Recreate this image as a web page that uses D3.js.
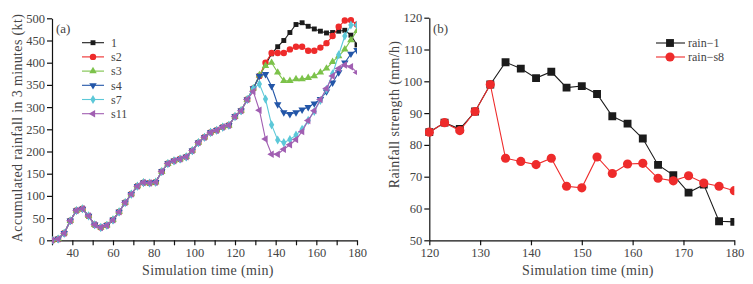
<!DOCTYPE html>
<meta charset="utf-8">
<script src="https://cdn.jsdelivr.net/npm/d3@7"></script>
<style type="text/css">
  body { margin: 0; background: #fff; }
  svg { display: block; }
  .axis text {
    font-family: "Liberation Serif", serif;
    font-size: 12.5px;
    fill: #444;
  }
  .axis path, .axis line {
    stroke: #111;
    stroke-width: 1.2;
  }
  .title {
    font-family: "Liberation Serif", serif;
    font-size: 14px;
    letter-spacing: 0.35px;
    fill: #444;
    text-anchor: middle;
  }
  .tag {
    font-family: "Liberation Serif", serif;
    font-size: 13px;
    fill: #444;
  }
  .legendText {
    font-family: "Liberation Serif", serif;
    font-size: 12px;
    fill: #444;
  }
</style>
<svg width="753" height="284"></svg>
<script>

////////////////////
// DATA

// panel (a): time every 3 min
const timeA = [30,33,36,39,42,45,48,51,54,57,60,63,66,69,72,75,78,81,84,87,90,93,96,99,
  102,105,108,111,114,117,120,123,126,129,132,135,138,141,144,147,150,153,156,159,162,
  165,168,171,174,177,180]

// all runs share the same values up to 126 min
const baseA = [0,3,16,44,67,71,55,35,29,34,46,64,85,104,122,130,129,131,155,173,179,183,
  188,202,220,232,243,248,255,259,279,292,317]

// 129 .. 180 min
const tail1   = [342,370,395,420,436,450,468,486,490,482,476,471,467,468,471,473,462,440]
const tailS2  = [342,370,400,422,422,422,430,436,436,427,427,434,444,460,481,495,496,486]
const tailS3  = [342,372,393,400,378,359,359,363,363,366,370,378,387,402,415,430,451,472]
const tailS4  = [342,370,374,347,306,288,284,288,294,300,308,318,335,355,378,400,420,428]
const tailS7  = [342,352,318,260,226,220,227,237,250,270,290,315,340,375,418,460,485,485]
const tailS11 = [335,293,228,194,194,205,215,227,245,270,292,317,342,370,387,395,391,378]

const namesA = ["1", "s2", "s3", "s4", "s7", "s11"]
const tailsA = [tail1, tailS2, tailS3, tailS4, tailS7, tailS11]

const ticksAx = [40, 60, 80, 100, 120, 140, 160, 180]
const ticksAy = [0, 50, 100, 150, 200, 250, 300, 350, 400, 450, 500]

// panel (b)
const timeB = [120,123,126,129,132,135,138,141,144,147,150,153,156,159,162,165,168,171,174,177,180]
const rain1  = [84,87,85,90.5,99,106,104,101,103,98,98.5,96,89,86.7,82,73.7,70.5,65,67.5,56,55.8]
const rainS8 = [84,87,84.5,90.5,99,75.8,74.8,73.8,75.8,67,66.5,76.2,71,74,74.2,69.5,68.7,70.3,68,67,65.6]
const namesB = ["rain\u22121", "rain\u2212s8"]

////////////////////
// STYLE

const colorsA = ["#1b1b1b", "#ee2b2b", "#7cc24a", "#2356a8", "#5cc8d8", "#a15fb2"]
const symbolsA = [d3.symbolSquare, d3.symbolCircle, d3.symbolTriangle, "down", d3.symbolDiamond, "left"]
const colorsB = ["#1b1b1b", "#ee2b2b"]

const svg = d3.select("svg")

function marker(sel, sym, size, color) {
  let type = sym, rot = 0
  if (sym === "down") { type = d3.symbolTriangle; rot = 180 }
  if (sym === "left") { type = d3.symbolTriangle; rot = -90 }
  sel.append("path")
    .attr("d", d3.symbol().type(type).size(size))
    .attr("transform", d => `translate(${d[0]},${d[1]}) rotate(${rot})`)
    .attr("fill", color)
}

////////////////////
// PANEL (a)

const xA = d3.scaleLinear().domain([30, 180]).range([52, 357])
const yA = d3.scaleLinear().domain([0, 500]).range([240.3, 18.3])

svg.append("clipPath").attr("id", "clipA")
  .append("rect").attr("x", 52).attr("y", 10).attr("width", 305).attr("height", 235)

svg.append("g")
  .attr("class", "axis")
  .attr("transform", `translate(0, ${yA(0)})`)
  .call(d3.axisBottom(xA).tickValues(d3.range(30, 181, 10)).tickSize(5).tickSizeOuter(0)
    .tickFormat(d => ticksAx.includes(d) ? d : ""))

svg.append("g")
  .attr("class", "axis")
  .attr("transform", `translate(${xA(30)}, 0)`)
  .call(d3.axisLeft(yA).tickValues(ticksAy).tickSize(5).tickSizeOuter(0).tickPadding(2))

const plotA = svg.append("g").attr("clip-path", "url(#clipA)")
const lineA = d3.line().x(d => xA(d[0])).y(d => yA(d[1]))

tailsA.forEach((tail, i) => {
  const pts = timeA.map((t, j) => [t, baseA.concat(tail)[j]])
  const g = plotA.append("g")
  g.append("path")
    .attr("d", lineA(pts))
    .attr("fill", "none")
    .attr("stroke", colorsA[i])
    .attr("stroke-width", 1.1)
  const m = g.selectAll("g").data(pts.map(p => [xA(p[0]), yA(p[1])])).join("g")
  marker(m, symbolsA[i], i === 1 ? 32 : 24, colorsA[i])
})

svg.append("text").attr("class", "tag").attr("x", 56).attr("y", 33).text("(a)")

// legend (a)
namesA.forEach((name, i) => {
  const y = 42.7 + i * 14.2
  const g = svg.append("g")
  g.append("line").attr("x1", 82).attr("x2", 104).attr("y1", y).attr("y2", y)
    .attr("stroke", colorsA[i]).attr("stroke-width", 1.1)
  const m = g.selectAll("g").data([[93, y]]).join("g")
  marker(m, symbolsA[i], i === 1 ? 32 : 24, colorsA[i])
  g.append("text").attr("class", "legendText").attr("x", 111).attr("y", y + 4.3).text(name)
})

svg.append("text").attr("class", "title")
  .attr("transform", `translate(22, 128) rotate(-90)`)
  .text("Accumulated rainfall in 3 minutes (kt)")
svg.append("text").attr("class", "title")
  .attr("x", 208).attr("y", 275)
  .text("Simulation time (min)")

////////////////////
// PANEL (b)

const xB = d3.scaleLinear().domain([120, 180]).range([429.3, 734.3])
const yB = d3.scaleLinear().domain([50, 120]).range([240.3, 17.7])

svg.append("clipPath").attr("id", "clipB")
  .append("rect").attr("x", 425).attr("y", 10).attr("width", 309.3).attr("height", 235)

svg.append("g")
  .attr("class", "axis")
  .attr("transform", `translate(0, ${yB(50)})`)
  .call(d3.axisBottom(xB).tickValues(d3.range(120, 181, 10)).tickSize(5).tickSizeOuter(0))

svg.append("g")
  .attr("class", "axis")
  .attr("transform", `translate(${xB(120)}, 0)`)
  .call(d3.axisLeft(yB).tickValues(d3.range(50, 121, 10)).tickSize(5).tickSizeOuter(0).tickPadding(2))

const plotB = svg.append("g").attr("clip-path", "url(#clipB)")
const lineB = d3.line().x(d => xB(d[0])).y(d => yB(d[1]))
const symbolsB = [d3.symbolSquare, d3.symbolCircle]

;[rain1, rainS8].forEach((vals, i) => {
  const pts = timeB.map((t, j) => [t, vals[j]])
  const g = plotB.append("g")
  g.append("path")
    .attr("d", lineB(pts))
    .attr("fill", "none")
    .attr("stroke", colorsB[i])
    .attr("stroke-width", 1.1)
  const m = g.selectAll("g").data(pts.map(p => [xB(p[0]), yB(p[1])])).join("g")
  marker(m, symbolsB[i], i === 0 ? 62 : 66, colorsB[i])
})

svg.append("text").attr("class", "tag").attr("x", 433).attr("y", 33).text("(b)")

namesB.forEach((name, i) => {
  const y = 43 + i * 14
  const g = svg.append("g")
  g.append("line").attr("x1", 656).attr("x2", 685).attr("y1", y).attr("y2", y)
    .attr("stroke", colorsB[i]).attr("stroke-width", 1.1)
  const m = g.selectAll("g").data([[670, y]]).join("g")
  marker(m, symbolsB[i], i === 0 ? 62 : 66, colorsB[i])
  g.append("text").attr("class", "legendText").attr("x", 688).attr("y", y + 4).text(name)
})

svg.append("text").attr("class", "title")
  .attr("transform", `translate(399, 114.5) rotate(-90)`)
  .text("Rainfall strength (mm/h)")
svg.append("text").attr("class", "title")
  .attr("x", 588).attr("y", 275)
  .text("Simulation time (min)")
</script>
